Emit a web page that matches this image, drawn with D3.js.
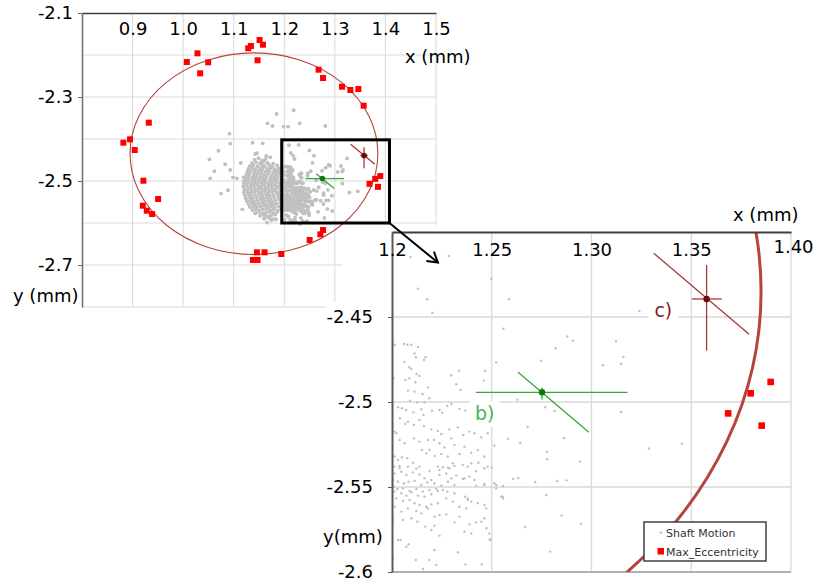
<!DOCTYPE html>
<html><head><meta charset="utf-8">
<script src="https://cdn.jsdelivr.net/npm/d3@7"></script>
<style>
body{margin:0;background:#fff}
svg{display:block}
text{font-family:"DejaVu Sans",Verdana,sans-serif}
</style>
</head><body>
<svg id="chart" width="813" height="584"></svg>
<script>
// ---------- DATA ----------
const mainXTicks = [0.9, 1.0, 1.1, 1.2, 1.3, 1.4, 1.5];
const mainXLabels = ["0.9", "1.0", "1.1", "1.2", "1.3", "1.4", "1.5"];
const mainYTicks = [-2.1, -2.3, -2.5, -2.7];
const mainYLabels = ["-2.1", "-2.3", "-2.5", "-2.7"];
const mainXGrid = [0.9, 1.0, 1.1, 1.2, 1.3, 1.4, 1.5];
const mainYGrid = [-2.2, -2.3, -2.4, -2.5, -2.6, -2.7, -2.8];

const zoomXTicks = [1.2, 1.25, 1.3, 1.35, 1.4];
const zoomXLabels = ["1.2", "1.25", "1.30", "1.35", "1.40"];
const zoomYTicks = [-2.45, -2.5, -2.55, -2.6];
const zoomYLabels = ["-2.45", "-2.5", "-2.55", "-2.6"];
const zoomXGrid = [1.25, 1.3, 1.35, 1.4];
const zoomYGrid = [-2.45, -2.5, -2.55];

// Max_Eccentricity points [x, y] (mm)
const maxEccentricity = [
  [0.8818,-2.4088],[0.8950,-2.4007],[0.9043,-2.4262],[0.9321,-2.3612],[0.9214,-2.4993],
  [0.9202,-2.5588],[0.9281,-2.5707],[0.9386,-2.5786],[0.9505,-2.5429],[1.0073,-2.2167],
  [1.0283,-2.1960],[1.0337,-2.2436],[1.0495,-2.2174],[1.1287,-2.1840],[1.1340,-2.1786],
  [1.1511,-2.1643],[1.1578,-2.1755],[1.1471,-2.2126],[1.2679,-2.2350],[1.2766,-2.2548],
  [1.3142,-2.2755],[1.3307,-2.2833],[1.3465,-2.2810],[1.3570,-2.3207],[1.3685,-2.5067],
  [1.3798,-2.4949],[1.3898,-2.4882],[1.3853,-2.5139],[1.2766,-2.6167],[1.2713,-2.6270],
  [1.2501,-2.6405],[1.1940,-2.6738],[1.1610,-2.6698],[1.1459,-2.6698],[1.1380,-2.6880],
  [1.1471,-2.6880]
];

// Fitted clearance ellipse: [centerX, centerY, radiusX, radiusY] (mm)
const fitEllipse = [1.140, -2.435, 0.245, 0.240];

// Orbit markers b) and c)
const orbitB = {x: 1.2752, y: -2.4943, hx: [1.242, 1.318], vy: [-2.4915, -2.4985],
                diag: [[1.2632, -2.4825], [1.2987, -2.5178]], label: [1.2465, -2.5065]};
const orbitC = {x: 1.3577, y: -2.4394, hx: [1.3503, 1.3653], vy: [-2.4194, -2.4698],
                diag: [[1.3312, -2.4125], [1.3790, -2.4602]], label: [1.3360, -2.4459]};

// Zoom box shown on the main chart [x0, x1, yTop, yBottom]
const zoomBox = [1.195, 1.408, -2.402, -2.600];
const arrowTarget = [1.223, -2.418];

// Shaft Motion points [x, y] (mm)
const shaftSparse = [
  [1.0534,-2.4937],[1.0617,-2.4766],[1.0699,-2.4278],[1.0750,-2.5300],[1.0888,-2.5222],
  [1.0931,-2.4111],[1.0917,-2.3873],[1.0832,-2.4600],[1.1140,-2.4571],[1.1171,-2.5675],
  [1.1373,-2.4087],[1.1458,-2.4341],[1.1574,-2.4103],[1.1667,-2.3627],[1.1766,-2.3690],
  [1.1848,-2.3405],[1.1987,-2.3706],[1.2076,-2.3706],[1.2185,-2.3317],[1.2303,-2.3627],
  [1.2812,-2.3690],[1.1426,-2.5770],[1.1607,-2.5889],[1.1657,-2.5992],[1.1838,-2.5909],
  [1.1743,-2.5929],[1.2317,-2.6024],[1.2119,-2.5929],[1.1426,-2.4357],[1.1644,-2.4405],
  [1.1723,-2.4437],[1.0521,-2.4484],[1.0931,-2.4738],[1.0984,-2.4913],[1.1195,-2.4913],
  [1.1063,-2.4937]
];
const shaftZoomArea = [
  [1.2093,-2.4147],[1.2285,-2.4141],[1.2130,-2.4333],[1.2177,-2.4396],[1.2202,-2.4476],
  [1.2497,-2.4275],[1.2558,-2.4569],[1.2587,-2.4396],[1.3240,-2.4465],[1.2878,-2.4614],
  [1.2907,-2.4639],[1.2820,-2.4684],[1.2747,-2.4757],[1.3123,-2.4643],[1.3160,-2.4735],
  [1.3148,-2.4775],[1.3057,-2.4784],[1.2628,-2.4986],[1.2768,-2.5031],[1.2815,-2.5053],
  [1.3148,-2.5059],[1.2680,-2.5147],[1.2582,-2.5216],[1.2643,-2.5241],[1.2862,-2.5212],
  [1.3288,-2.5273],[1.2777,-2.5292],[1.2778,-2.5337],[1.2942,-2.5351],[1.2607,-2.5453],
  [1.2633,-2.5447],[1.2718,-2.5471],[1.2828,-2.5465],[1.2875,-2.5461],[1.2557,-2.5494],
  [1.2548,-2.5557],[1.2557,-2.5567],[1.2773,-2.5547],[1.2850,-2.5667],[1.2947,-2.5716],
  [1.2667,-2.5735],[1.2793,-2.5880],[1.3453,-2.5245],[1.2014,-2.4663],[1.2060,-2.4659],
  [1.2077,-2.4663],[1.2097,-2.4663],[1.2130,-2.4676],[1.2462,-2.5482],[1.2523,-2.5488],
  [1.2473,-2.5743],[1.2448,-2.5704],[1.2490,-2.5808],
  [1.2113,-2.4714],[1.2120,-2.4737],[1.2168,-2.4737],[1.2160,-2.4753],[1.2063,-2.4765],
  [1.2087,-2.4796],[1.2097,-2.4806],[1.2123,-2.4835],[1.2137,-2.4847],[1.2087,-2.4861],
  [1.2067,-2.4870],[1.2117,-2.4884],[1.2180,-2.4914],[1.2297,-2.4843],[1.2337,-2.4816],
  [1.2322,-2.4896],[1.2343,-2.4929],[1.2467,-2.4816],[1.2460,-2.4874],[1.2522,-2.4767],
  [1.2007,-2.4861],[1.2080,-2.4933],[1.2113,-2.4939],[1.2153,-2.4953],[1.2187,-2.4978],
  [1.2090,-2.4992],[1.2127,-2.5002],[1.2163,-2.5002],[1.2030,-2.5031],[1.2050,-2.5037],
  [1.2070,-2.5047],[1.2107,-2.5061],[1.2147,-2.5043],[1.2157,-2.5076],[1.2200,-2.5051],
  [1.2238,-2.5047],[1.2252,-2.5063],[1.2277,-2.5023],[1.2297,-2.5012],[1.2338,-2.5041],
  [1.2368,-2.5051],[1.2040,-2.5096],[1.2080,-2.5116],[1.2067,-2.5129],[1.2110,-2.5135],
  [1.2137,-2.5106],[1.2160,-2.5141],[1.2197,-2.5161],[1.2230,-2.5170],[1.2247,-2.5188],
  [1.2288,-2.5161],[1.2330,-2.5149],[1.2357,-2.5194],[1.2388,-2.5174],[1.2413,-2.5184],
  [1.2447,-2.5208],[1.2480,-2.5184],[1.2013,-2.5174],[1.2022,-2.5184],[1.2038,-2.5223],
  [1.2063,-2.5243],[1.2110,-2.5214],[1.2137,-2.5233],[1.2180,-2.5223],[1.2210,-2.5223],
  [1.2238,-2.5243],[1.2263,-2.5267],[1.2297,-2.5214],[1.2313,-2.5253],[1.2363,-2.5263],
  [1.2397,-2.5298],[1.2430,-2.5282],[1.2463,-2.5321],[1.2013,-2.5321],[1.2030,-2.5341],
  [1.2050,-2.5325],[1.2077,-2.5331],[1.2105,-2.5357],[1.2150,-2.5282],[1.2172,-2.5302],
  [1.2188,-2.5282],[1.2213,-2.5318],[1.2247,-2.5306],[1.2280,-2.5321],[1.2305,-2.5361],
  [1.2338,-2.5306],[1.2397,-2.5361],[1.2433,-2.5357],[1.2463,-2.5390],[1.2513,-2.5257],
  [1.2038,-2.5390],[1.2080,-2.5380],[1.2138,-2.5380],[1.2230,-2.5380],[1.2288,-2.5390],
  [1.2355,-2.5370],
  [1.2013,-2.5380],[1.2038,-2.5376],[1.2122,-2.5392],[1.2188,-2.5406],[1.2238,-2.5400],
  [1.2255,-2.5384],[1.2280,-2.5386],[1.2313,-2.5376],[1.2380,-2.5380],[1.2422,-2.5406],
  [1.2480,-2.5380],[1.2500,-2.5386],[1.2013,-2.5420],[1.2047,-2.5410],[1.2072,-2.5429],
  [1.2105,-2.5414],[1.2138,-2.5426],[1.2163,-2.5449],[1.2197,-2.5459],[1.2238,-2.5429],
  [1.2272,-2.5420],[1.2297,-2.5449],[1.2322,-2.5433],[1.2355,-2.5453],[1.2388,-2.5439],
  [1.2413,-2.5459],[1.2005,-2.5459],[1.2030,-2.5469],[1.2060,-2.5478],[1.2083,-2.5469],
  [1.2113,-2.5465],[1.2147,-2.5488],[1.2177,-2.5473],[1.2213,-2.5478],[1.2247,-2.5492],
  [1.2280,-2.5469],[1.2313,-2.5488],[1.2363,-2.5449],[1.2422,-2.5492],[1.2463,-2.5488],
  [1.2513,-2.5478],[1.2522,-2.5508],[1.2555,-2.5557],[1.2010,-2.5498],[1.2027,-2.5512],
  [1.2055,-2.5508],[1.2088,-2.5524],[1.2122,-2.5512],[1.2155,-2.5527],[1.2188,-2.5518],
  [1.2222,-2.5512],[1.2255,-2.5518],[1.2013,-2.5527],[1.2047,-2.5537],[1.2072,-2.5551],
  [1.2097,-2.5531],[1.2130,-2.5551],[1.2163,-2.5557],[1.2197,-2.5543],[1.2230,-2.5524],
  [1.2277,-2.5527],[1.2313,-2.5537],[1.2367,-2.5557],[1.2380,-2.5567],[1.2397,-2.5586],
  [1.2430,-2.5596],[1.2463,-2.5606],[1.2472,-2.5626],[1.2022,-2.5567],[1.2055,-2.5582],
  [1.2088,-2.5576],[1.2113,-2.5596],[1.2138,-2.5606],[1.2172,-2.5616],[1.2197,-2.5602],
  [1.2230,-2.5596],[1.2272,-2.5567],[1.2305,-2.5586],[1.2338,-2.5616],[1.2372,-2.5626],
  [1.2380,-2.5576],[1.2013,-2.5616],[1.2047,-2.5645],[1.2080,-2.5626],[1.2122,-2.5641],
  [1.2147,-2.5655],[1.2180,-2.5626],[1.2213,-2.5674],[1.2238,-2.5665],[1.2272,-2.5661],
  [1.2313,-2.5708],[1.2338,-2.5674],[1.2388,-2.5720],[1.2422,-2.5708],[1.2463,-2.5684],
  [1.2005,-2.5694],[1.2055,-2.5694],[1.2097,-2.5684],[1.2127,-2.5704],[1.2167,-2.5733],
  [1.2197,-2.5753],[1.2213,-2.5728],[1.2238,-2.5786],[1.2363,-2.5763],[1.2397,-2.5773],
  [1.2488,-2.5773],[1.2030,-2.5812],[1.2043,-2.5812],[1.2072,-2.5851],[1.2083,-2.5837],
  [1.2213,-2.5871],[1.2330,-2.5884],[1.2188,-2.5929],[1.2222,-2.5959],[1.2368,-2.5955],
  [1.2450,-2.5955],[1.2155,-2.5982],[1.2005,-2.5920],[1.2493,-2.5812]
];
// dense core of the shaft-motion cloud (estimated from the overview)
const shaftCore = [
  [1.141,-2.449],[1.149,-2.446],[1.156,-2.451],[1.163,-2.448],
  [1.136,-2.457],[1.144,-2.455],[1.152,-2.458],[1.159,-2.454],[1.167,-2.457],[1.178,-2.459],
  [1.132,-2.464],[1.139,-2.462],[1.147,-2.465],[1.155,-2.461],[1.161,-2.464],[1.170,-2.462],[1.176,-2.466],[1.186,-2.463],
  [1.129,-2.471],[1.137,-2.469],[1.143,-2.472],[1.151,-2.470],[1.158,-2.468],[1.166,-2.471],[1.173,-2.469],[1.181,-2.472],[1.189,-2.470],[1.196,-2.468],
  [1.127,-2.478],[1.134,-2.476],[1.141,-2.479],[1.149,-2.477],[1.156,-2.475],[1.163,-2.478],[1.170,-2.476],[1.178,-2.479],[1.185,-2.477],[1.192,-2.475],[1.199,-2.478],
  [1.125,-2.485],[1.131,-2.483],[1.139,-2.486],[1.146,-2.484],[1.154,-2.482],[1.160,-2.485],[1.168,-2.483],[1.175,-2.486],[1.182,-2.484],[1.190,-2.482],[1.197,-2.485],
  [1.123,-2.492],[1.130,-2.490],[1.137,-2.493],[1.144,-2.491],[1.152,-2.489],[1.158,-2.492],[1.165,-2.490],[1.173,-2.493],[1.180,-2.491],[1.187,-2.489],[1.194,-2.492],
  [1.121,-2.499],[1.128,-2.497],[1.135,-2.500],[1.142,-2.498],[1.150,-2.496],[1.157,-2.499],[1.163,-2.497],[1.171,-2.500],[1.178,-2.498],[1.185,-2.496],[1.193,-2.499],[1.199,-2.497],
  [1.120,-2.506],[1.127,-2.504],[1.134,-2.507],[1.141,-2.505],[1.148,-2.503],[1.155,-2.506],[1.162,-2.504],[1.169,-2.507],[1.176,-2.505],[1.184,-2.503],[1.191,-2.506],[1.198,-2.504],
  [1.119,-2.513],[1.126,-2.511],[1.133,-2.514],[1.140,-2.512],[1.147,-2.510],[1.154,-2.513],[1.161,-2.511],[1.168,-2.514],[1.175,-2.512],[1.182,-2.510],[1.189,-2.513],[1.196,-2.511],
  [1.121,-2.520],[1.128,-2.518],[1.135,-2.521],[1.142,-2.519],[1.149,-2.517],[1.156,-2.520],[1.163,-2.518],[1.170,-2.521],[1.177,-2.519],[1.184,-2.517],[1.192,-2.520],[1.199,-2.518],
  [1.120,-2.527],[1.127,-2.525],[1.134,-2.528],[1.141,-2.526],[1.148,-2.524],[1.155,-2.527],[1.162,-2.525],[1.169,-2.528],[1.176,-2.526],[1.183,-2.524],[1.190,-2.527],[1.197,-2.525],
  [1.122,-2.534],[1.129,-2.532],[1.136,-2.535],[1.143,-2.533],[1.150,-2.531],[1.157,-2.534],[1.164,-2.532],[1.171,-2.535],[1.178,-2.533],[1.186,-2.531],[1.193,-2.534],
  [1.124,-2.541],[1.131,-2.539],[1.138,-2.542],[1.145,-2.540],[1.152,-2.538],[1.159,-2.541],[1.166,-2.539],[1.173,-2.542],[1.180,-2.540],[1.188,-2.538],[1.195,-2.541],
  [1.126,-2.548],[1.133,-2.546],[1.140,-2.549],[1.147,-2.547],[1.154,-2.545],[1.161,-2.548],[1.168,-2.546],[1.175,-2.549],[1.182,-2.547],[1.190,-2.545],[1.197,-2.548],
  [1.129,-2.555],[1.136,-2.553],[1.143,-2.556],[1.150,-2.554],[1.157,-2.552],[1.164,-2.555],[1.171,-2.553],[1.178,-2.556],[1.185,-2.554],[1.193,-2.552],
  [1.132,-2.562],[1.139,-2.560],[1.146,-2.563],[1.153,-2.561],[1.160,-2.559],[1.167,-2.562],[1.174,-2.560],[1.181,-2.563],[1.189,-2.561],[1.196,-2.559],
  [1.137,-2.569],[1.144,-2.567],[1.151,-2.570],[1.158,-2.568],[1.165,-2.566],[1.172,-2.569],[1.179,-2.567],[1.187,-2.570],[1.194,-2.568],
  [1.143,-2.576],[1.150,-2.574],[1.157,-2.577],[1.164,-2.575],[1.171,-2.573],[1.178,-2.576],[1.186,-2.574],
  [1.152,-2.583],[1.160,-2.581],[1.167,-2.584],[1.174,-2.582],[1.182,-2.580],
  [1.160,-2.590],[1.170,-2.588],[1.178,-2.591]
];
const shaftMotion = shaftSparse.concat(shaftZoomArea, shaftCore);

// ---------- DRAWING ----------
const svg = d3.select("#chart");
const FONT = '"DejaVu Sans", Verdana, sans-serif';
const GRID = "#d9d9d9";
const ELLIPSE_COL = "#b5443c";
const RED = "#ff0000";
const DOT = "#c0c0c0";

// main scales
const mx = d3.scaleLinear().domain([0.8, 1.5]).range([82, 436]);
const my = d3.scaleLinear().domain([-2.1, -2.8]).range([13, 307]);
// zoom scales
const zx = d3.scaleLinear().domain([1.2, 1.4]).range([392, 791]);
const zy = d3.scaleLinear().domain([-2.4, -2.6]).range([232, 572]);

const defs = svg.append("defs");
defs.append("clipPath").attr("id", "clipMain").append("rect")
  .attr("x", mx(0.8)).attr("y", my(-2.1)).attr("width", mx(1.5) - mx(0.8)).attr("height", my(-2.8) - my(-2.1));
defs.append("clipPath").attr("id", "clipZoom").append("rect")
  .attr("x", zx(1.2)).attr("y", zy(-2.4)).attr("width", zx(1.4) - zx(1.2)).attr("height", zy(-2.6) - zy(-2.4));
defs.append("marker").attr("id", "arrowHead").attr("viewBox", "-12 -8 14 16")
  .attr("markerWidth", 14).attr("markerHeight", 16).attr("refX", 0).attr("refY", 0)
  .attr("markerUnits", "userSpaceOnUse").attr("orient", "auto")
  .append("path").attr("d", "M-10,-6 L0,0 L-10,6").attr("fill", "none")
  .attr("stroke", "#000").attr("stroke-width", 2);

function drawOrbit(g, sx, sy, o, lineCol, dotCol, width, r) {
  g.append("line").attr("x1", sx(o.hx[0])).attr("x2", sx(o.hx[1])).attr("y1", sy(o.y)).attr("y2", sy(o.y))
    .attr("stroke", lineCol).attr("stroke-width", width);
  g.append("line").attr("x1", sx(o.x)).attr("x2", sx(o.x)).attr("y1", sy(o.vy[0])).attr("y2", sy(o.vy[1]))
    .attr("stroke", lineCol).attr("stroke-width", width);
  g.append("line").attr("x1", sx(o.diag[0][0])).attr("y1", sy(o.diag[0][1]))
    .attr("x2", sx(o.diag[1][0])).attr("y2", sy(o.diag[1][1]))
    .attr("stroke", lineCol).attr("stroke-width", width);
  g.append("circle").attr("cx", sx(o.x)).attr("cy", sy(o.y)).attr("r", r).attr("fill", dotCol);
}

// ===== MAIN CHART =====
const main = svg.append("g");
main.selectAll("line.vg").data(mainXGrid).enter().append("line")
  .attr("x1", d => mx(d)).attr("x2", d => mx(d)).attr("y1", my(-2.1)).attr("y2", my(-2.8))
  .attr("stroke", GRID).attr("stroke-width", 1);
main.selectAll("line.hg").data(mainYGrid).enter().append("line")
  .attr("x1", mx(0.8)).attr("x2", mx(1.5)).attr("y1", d => my(d)).attr("y2", d => my(d))
  .attr("stroke", GRID).attr("stroke-width", 1);

const mainPlot = main.append("g").attr("clip-path", "url(#clipMain)");
mainPlot.append("ellipse")
  .attr("cx", mx(fitEllipse[0])).attr("cy", my(fitEllipse[1]))
  .attr("rx", mx(fitEllipse[0] + fitEllipse[2]) - mx(fitEllipse[0]))
  .attr("ry", my(fitEllipse[1] - fitEllipse[3]) - my(fitEllipse[1]))
  .attr("fill", "none").attr("stroke", ELLIPSE_COL).attr("stroke-width", 1.1);
mainPlot.selectAll("circle.sm").data(shaftMotion).enter().append("circle")
  .attr("cx", d => mx(d[0])).attr("cy", d => my(d[1])).attr("r", 1.95).attr("fill", DOT);
drawOrbit(mainPlot, mx, my, orbitB, "#3aa63a", "#0a7a0a", 1.3, 2.8);
drawOrbit(mainPlot, mx, my, orbitC, "#a83838", "#6a0a0a", 1.3, 2.8);
mainPlot.selectAll("rect.me").data(maxEccentricity).enter().append("rect")
  .attr("x", d => mx(d[0]) - 3).attr("y", d => my(d[1]) - 3).attr("width", 6).attr("height", 6).attr("fill", RED);

// main axes
const mLeft = main.append("g").attr("transform", `translate(${mx(0.8)},0)`)
  .call(d3.axisLeft(my).tickValues(mainYTicks).tickFormat((d, i) => mainYLabels[i])
    .tickSize(4).tickSizeOuter(0).tickPadding(5));
mLeft.select(".domain").attr("stroke", "#6e6e6e").attr("stroke-width", 1.5);
mLeft.selectAll(".tick line").attr("stroke", "#6e6e6e");
mLeft.selectAll("text").attr("font-family", FONT).attr("font-size", 18).attr("fill", "#000");

const mTop = main.append("g").attr("transform", `translate(0,${my(-2.1)})`)
  .call(d3.axisBottom(mx).tickValues(mainXTicks).tickFormat((d, i) => mainXLabels[i])
    .tickSize(0).tickSizeOuter(0).tickPadding(9));
mTop.select(".domain").attr("stroke", "#404040").attr("stroke-width", 1.5);
mTop.selectAll("text").attr("font-family", FONT).attr("font-size", 18).attr("fill", "#000");

main.append("rect")
  .attr("x", mx(zoomBox[0])).attr("y", my(zoomBox[2]))
  .attr("width", mx(zoomBox[1]) - mx(zoomBox[0])).attr("height", my(zoomBox[3]) - my(zoomBox[2]))
  .attr("fill", "none").attr("stroke", "#000").attr("stroke-width", 3);

main.append("text").attr("x", 405).attr("y", 63).attr("font-size", 18).attr("font-family", FONT).text("x (mm)");
main.append("text").attr("x", 13).attr("y", 302).attr("font-size", 18).attr("font-family", FONT).text("y (mm)");

// ===== ZOOM (INSET) CHART =====
const inset = svg.append("g");
inset.append("rect").attr("x", 342).attr("y", 225).attr("width", 813 - 342).attr("height", 584 - 225).attr("fill", "#fff");
inset.append("rect").attr("x", 326).attr("y", 302).attr("width", 52).attr("height", 28).attr("fill", "#fff");

inset.selectAll("line.vg").data(zoomXGrid).enter().append("line")
  .attr("x1", d => zx(d)).attr("x2", d => zx(d)).attr("y1", zy(-2.4)).attr("y2", zy(-2.6))
  .attr("stroke", GRID).attr("stroke-width", 1.3);
inset.selectAll("line.hg").data(zoomYGrid).enter().append("line")
  .attr("x1", zx(1.2)).attr("x2", zx(1.4)).attr("y1", d => zy(d)).attr("y2", d => zy(d))
  .attr("stroke", GRID).attr("stroke-width", 1.3);
inset.append("line").attr("x1", zx(1.2)).attr("x2", zx(1.4)).attr("y1", zy(-2.6)).attr("y2", zy(-2.6))
  .attr("stroke", "#b0b0b0").attr("stroke-width", 2.2);

// label backgrounds (interrupt gridlines)
const labelBoxes = [orbitB, orbitC];
inset.selectAll("rect.lb").data(labelBoxes).enter().append("rect")
  .attr("x", d => zx(d.label[0]) - 15).attr("y", d => zy(d.label[1]) - 12)
  .attr("width", 30).attr("height", 26).attr("fill", "#fff");

const zPlot = inset.append("g").attr("clip-path", "url(#clipZoom)");
zPlot.selectAll("circle.sm").data(shaftMotion).enter().append("circle")
  .attr("cx", d => zx(d[0])).attr("cy", d => zy(d[1])).attr("r", 1.2).attr("fill", DOT);
zPlot.append("ellipse")
  .attr("cx", zx(fitEllipse[0])).attr("cy", zy(fitEllipse[1]))
  .attr("rx", zx(fitEllipse[0] + fitEllipse[2]) - zx(fitEllipse[0]))
  .attr("ry", zy(fitEllipse[1] - fitEllipse[3]) - zy(fitEllipse[1]))
  .attr("fill", "none").attr("stroke", ELLIPSE_COL).attr("stroke-width", 3);
drawOrbit(zPlot, zx, zy, orbitB, "#3aa63a", "#0a7a0a", 1.3, 3.2);
drawOrbit(zPlot, zx, zy, orbitC, "#a83838", "#6a0a0a", 1.3, 3.2);
zPlot.selectAll("rect.me").data(maxEccentricity).enter().append("rect")
  .attr("x", d => zx(d[0]) - 3.3).attr("y", d => zy(d[1]) - 3.3).attr("width", 6.6).attr("height", 6.6).attr("fill", RED);

inset.append("text").attr("x", zx(orbitB.label[0])).attr("y", zy(orbitB.label[1]))
  .attr("dy", "0.36em").attr("text-anchor", "middle").attr("font-size", 19).attr("font-family", FONT)
  .attr("fill", "#3cb84a").text("b)");
inset.append("text").attr("x", zx(orbitC.label[0])).attr("y", zy(orbitC.label[1]))
  .attr("dy", "0.36em").attr("text-anchor", "middle").attr("font-size", 19).attr("font-family", FONT)
  .attr("fill", "#8a1a2a").text("c)");

// inset axes
const zLeft = inset.append("g").attr("transform", `translate(${zx(1.2)},0)`)
  .call(d3.axisLeft(zy).tickValues(zoomYTicks).tickFormat((d, i) => zoomYLabels[i])
    .tickSize(4).tickSizeOuter(0).tickPadding(15));
zLeft.select(".domain").attr("stroke", "#595959").attr("stroke-width", 2);
zLeft.selectAll(".tick line").attr("stroke", "#595959");
zLeft.selectAll("text").attr("font-family", FONT).attr("font-size", 18).attr("fill", "#000");

const zTop = inset.append("g").attr("transform", `translate(0,${zy(-2.4)})`)
  .call(d3.axisBottom(zx).tickValues(zoomXTicks).tickFormat((d, i) => zoomXLabels[i])
    .tickSize(0).tickSizeOuter(0).tickPadding(11));
zTop.select(".domain").attr("stroke", "#404040").attr("stroke-width", 1.8);
zTop.selectAll("text").attr("font-family", FONT).attr("font-size", 18).attr("fill", "#000");
zTop.selectAll(".tick").filter((d, i) => i === zoomXTicks.length - 1).select("text")
  .attr("x", 2).attr("y", 8);

inset.append("text").attr("x", 733).attr("y", 221).attr("font-size", 18).attr("font-family", FONT).text("x (mm)");
inset.append("text").attr("x", 323).attr("y", 543).attr("font-size", 18).attr("font-family", FONT).text("y(mm)");

// legend
const leg = inset.append("g").attr("transform", "translate(644,522)");
leg.append("rect").attr("width", 122).attr("height", 39).attr("fill", "#fff")
  .attr("stroke", "#404040").attr("stroke-width", 1.5);
leg.append("circle").attr("cx", 17).attr("cy", 10.5).attr("r", 1.2).attr("fill", DOT);
leg.append("text").attr("x", 22).attr("y", 14.5).attr("font-size", 11)
  .attr("font-family", '"Liberation Sans", Arial, sans-serif').attr("fill", "#333").text("Shaft Motion");
leg.append("rect").attr("x", 13.5).attr("y", 26).attr("width", 6.5).attr("height", 6.5).attr("fill", RED);
leg.append("text").attr("x", 22).attr("y", 33.5).attr("font-size", 11)
  .attr("font-family", '"Liberation Sans", Arial, sans-serif').attr("fill", "#333").text("Max_Eccentricity");

// arrow from zoom box to inset
svg.append("line")
  .attr("x1", mx(zoomBox[1])).attr("y1", my(zoomBox[3]))
  .attr("x2", zx(arrowTarget[0])).attr("y2", zy(arrowTarget[1]))
  .attr("stroke", "#000").attr("stroke-width", 2).attr("marker-end", "url(#arrowHead)");
</script>
</body></html>
